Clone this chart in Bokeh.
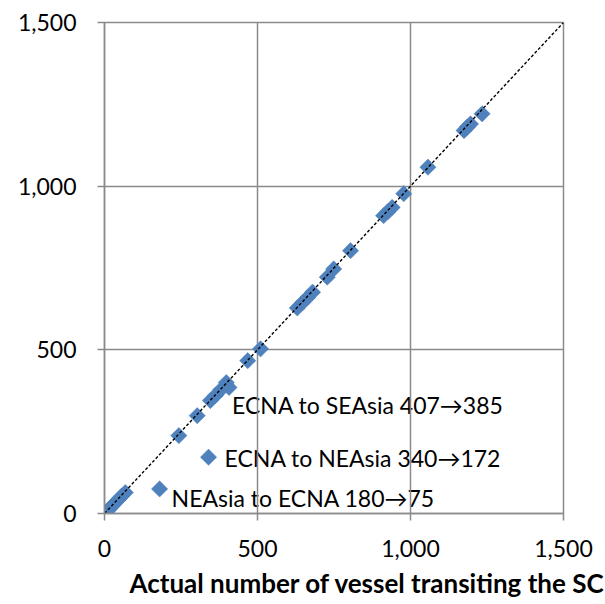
import math
from bokeh.plotting import figure
from bokeh.models import ColumnDataSource, NumeralTickFormatter, FixedTicker, Range1d, Title
from bokeh.core.properties import value
from bokeh.embed import file_html
from bokeh.resources import INLINE

# Actual vs predicted number of vessels
actual = [0, 8, 16, 25, 35, 45, 55, 68, 180, 243, 303, 340, 346, 362, 380, 398, 407,
          468, 510, 630, 648, 664, 680, 728, 749, 804, 912, 926, 940, 978, 1057,
          1175, 1185, 1196, 1234]
predicted = [0, 7, 14, 23, 33, 42, 52, 64, 75, 238, 299, 172, 345, 360, 378, 400, 385,
             467, 503, 628, 645, 660, 676, 722, 747, 803, 910, 922, 935, 977, 1058,
             1170, 1180, 1190, 1221]

# Labelled outliers
label_text = ["ECNA to SEAsia 407\u2192385", "ECNA to NEAsia 340\u2192172", "NEAsia to ECNA 180\u219275"]
label_x = [407, 340, 180]
label_y = [385, 172, 75]
label_dx = [3, 16, 12]      # pixel offsets of the label from its point
label_dy = [18, 1, 9]

ticks = [0, 500, 1000, 1500]
axis_min, axis_max = 0, 1500
x_title = "Actual number of vessel transiting the SC"

BLUE = "#4F81BD"
GRID = "#8a8a8a"
FONT = "Lato"

p = figure(width=605, height=604, output_backend="svg", toolbar_location=None,
           x_range=Range1d(axis_min, axis_max), y_range=Range1d(axis_min, axis_max),
           min_border_left=104, min_border_right=42, min_border_top=22, min_border_bottom=91)
p.background_fill_color = "white"
p.border_fill_color = "white"
p.outline_line_color = GRID
p.outline_line_width = 1.5

for ax in (p.xaxis[0], p.yaxis[0]):
    ax.ticker = FixedTicker(ticks=ticks)
    ax.formatter = NumeralTickFormatter(format="0,0")
    ax.axis_line_color = GRID
    ax.axis_line_width = 1.5
    ax.major_tick_line_color = GRID
    ax.major_tick_line_width = 1.5
    ax.major_tick_out = 7
    ax.major_tick_in = 0
    ax.minor_tick_line_color = None
    ax.major_label_text_font = FONT
    ax.major_label_text_font_size = "23px"
    ax.major_label_text_color = "black"
p.yaxis[0].major_label_standoff = 21
p.xaxis[0].major_label_standoff = 19

for g in (p.xgrid[0], p.ygrid[0]):
    g.ticker = FixedTicker(ticks=ticks)
    g.grid_line_color = GRID
    g.grid_line_width = 1.5

src = ColumnDataSource(dict(x=actual, y=predicted))
p.scatter("x", "y", source=src, marker="square", angle=math.pi / 4, size=11.5,
          fill_color=BLUE, line_color=BLUE, line_width=0.5)

p.line([axis_min, axis_max], [axis_min, axis_max], line_color="black",
       line_width=1.4, line_dash="3 2")

lsrc = ColumnDataSource(dict(x=label_x, y=label_y, t=label_text, dx=label_dx, dy=label_dy))
p.text("x", "y", text="t", source=lsrc, x_offset="dx", y_offset="dy",
       text_font=value(FONT), text_font_size="23px", text_color="black",
       text_align="left", text_baseline="middle", level="image")

# x-axis title, below the axis, left-aligned a little right of the frame's edge
title = Title(text=x_title, align="left", offset=25, standoff=11,
              text_font=FONT, text_font_size="26px", text_font_style="bold",
              text_color="black")
p.add_layout(title, "below")

open("out.html", "w").write(file_html(p, INLINE))
